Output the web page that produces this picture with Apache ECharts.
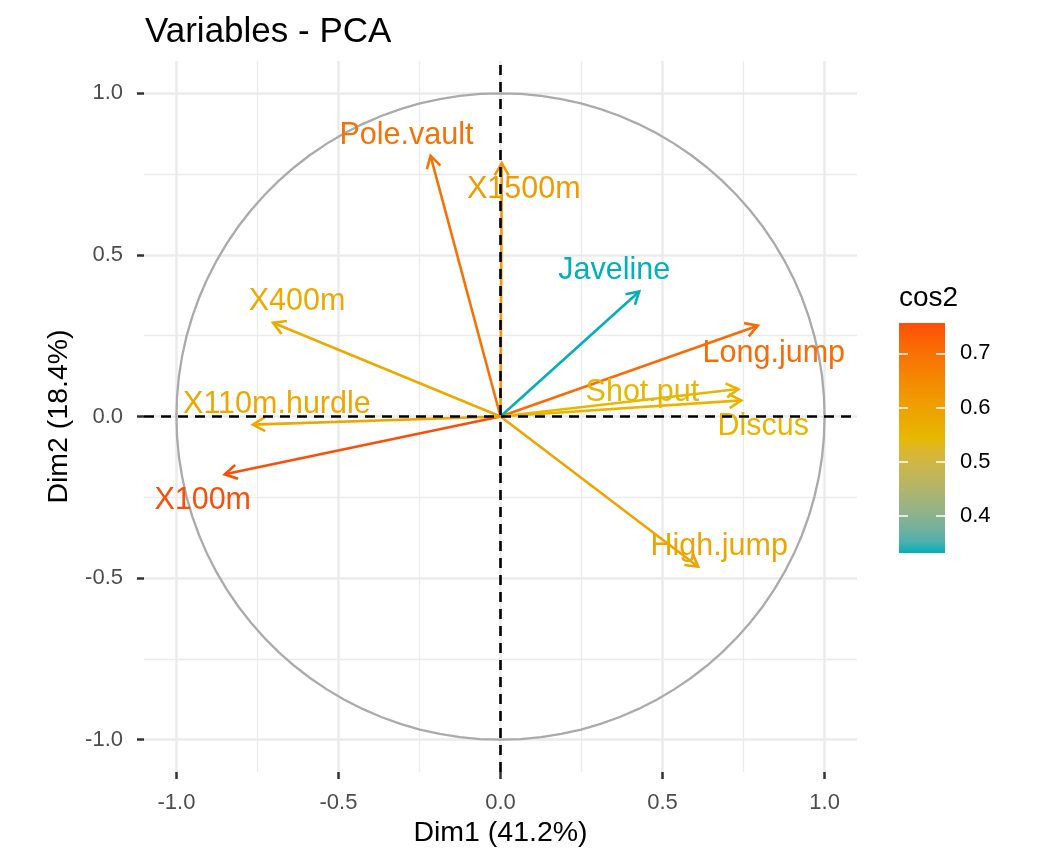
<!DOCTYPE html>
<html>
<head>
<meta charset="utf-8">
<title>Variables - PCA</title>
<script src="https://cdn.jsdelivr.net/npm/echarts@6/dist/echarts.min.js"></script>
<style>
  html, body { margin: 0; padding: 0; background: #fff; }
  #chart { width: 1056px; height: 864px; }
</style>
</head>
<body>
<div id="chart"></div>
<script>
// loadings of each variable on Dim1 / Dim2, and quality (cos2)
const variables = ['X100m', 'Long.jump', 'Shot.put', 'High.jump', 'X400m', 'X110m.hurdle', 'Discus', 'Pole.vault', 'Javeline', 'X1500m'];
const dim1 = [-0.851, 0.794, 0.734, 0.610, -0.702, -0.764, 0.743, -0.216, 0.428, 0.004];
const dim2 = [-0.179, 0.281, 0.085, -0.465, 0.290, -0.025, 0.050, 0.807, 0.387, 0.784];
const cos2 = [0.756, 0.710, 0.546, 0.589, 0.577, 0.585, 0.555, 0.699, 0.333, 0.615];

const axisTicks = [-1, -0.5, 0, 0.5, 1];
const minorGrid = [-0.75, -0.25, 0.25, 0.75];
const cos2Ticks = [0.4, 0.5, 0.6, 0.7];
const cos2Range = [0.332, 0.756];
const gradientCols = ['#00AFBB', '#E7B800', '#FC4E07'];

// label offsets (px from arrow tip), like ggrepel placed them
const labelShift = [[-22, 26], [16, 28], [-96, 4], [21, -20], [24, -21], [24, -20], [22, 26], [-24, -20.5], [-25, -20.5], [22, 26]];

const FONT = '"Liberation Sans", Arial, Helvetica, sans-serif';

// ggplot interpolates colour ramps in CIELAB, do the same
function hexToLab(hex) {
  const c = [1, 3, 5].map(k => parseInt(hex.slice(k, k + 2), 16) / 255)
    .map(v => v <= 0.04045 ? v / 12.92 : Math.pow((v + 0.055) / 1.055, 2.4));
  const x = (0.4124 * c[0] + 0.3576 * c[1] + 0.1805 * c[2]) / 0.95047;
  const y = 0.2126 * c[0] + 0.7152 * c[1] + 0.0722 * c[2];
  const z = (0.0193 * c[0] + 0.1192 * c[1] + 0.9505 * c[2]) / 1.08883;
  const f = t => t > 0.008856 ? Math.cbrt(t) : 7.787 * t + 16 / 116;
  return [116 * f(y) - 16, 500 * (f(x) - f(y)), 200 * (f(y) - f(z))];
}
function labToHex(lab) {
  const fy = (lab[0] + 16) / 116, fx = fy + lab[1] / 500, fz = fy - lab[2] / 200;
  const inv = t => t * t * t > 0.008856 ? t * t * t : (t - 16 / 116) / 7.787;
  const x = inv(fx) * 0.95047, y = inv(fy), z = inv(fz) * 1.08883;
  const lin = [
    3.2406 * x - 1.5372 * y - 0.4986 * z,
    -0.9689 * x + 1.8758 * y + 0.0415 * z,
    0.0557 * x - 0.2040 * y + 1.0570 * z
  ];
  return '#' + lin.map(v => {
    v = v <= 0.0031308 ? 12.92 * v : 1.055 * Math.pow(v, 1 / 2.4) - 0.055;
    const n = Math.round(Math.min(1, Math.max(0, v)) * 255);
    return n.toString(16).padStart(2, '0');
  }).join('');
}
function labRamp(cols, n) {
  const labs = cols.map(hexToLab);
  const out = [];
  for (let k = 0; k < n; k++) {
    const t = k / (n - 1) * (labs.length - 1);
    const j = Math.min(Math.floor(t), labs.length - 2), u = t - j;
    out.push(labToHex(labs[j].map((v, d) => v + (labs[j + 1][d] - v) * u)));
  }
  return out;
}
const ramp = labRamp(gradientCols, 21);

const chart = echarts.init(document.getElementById('chart'));

const gridLine = (axis, v, w) => ({ [axis]: v, lineStyle: { color: '#EBEBEB', width: w, type: 'solid' } });

const option = {
  animation: false,
  backgroundColor: '#fff',
  textStyle: { fontFamily: FONT },
  title: [
    { text: 'Variables - PCA', left: 145, top: 15, padding: 0,
      textStyle: { fontSize: 35, fontWeight: 'normal', color: '#000', fontFamily: FONT } },
    { text: 'cos2', left: 899, top: 284, padding: 0,
      textStyle: { fontSize: 28, fontWeight: 'normal', color: '#000', fontFamily: FONT } }
  ],
  grid: [
    { left: 144, top: 61, width: 713, height: 711 },
    { left: 899, top: 323, width: 46, height: 230 }
  ],
  xAxis: [
    {
      type: 'value', gridIndex: 0, min: -1.1, max: 1.1,
      name: 'Dim1 (41.2%)', nameLocation: 'middle', nameGap: 47,
      nameTextStyle: { fontSize: 28.5, color: '#000' },
      axisLine: { show: false, onZero: false },
      axisTick: { show: true, length: 7, lineStyle: { color: '#333', width: 2.5 }, customValues: axisTicks },
      axisLabel: { customValues: axisTicks, margin: 20, fontSize: 22, color: '#4D4D4D', formatter: v => v.toFixed(1) },
      splitLine: { show: false }
    },
    { type: 'value', gridIndex: 1, min: 0, max: 1, show: false }
  ],
  yAxis: [
    {
      type: 'value', gridIndex: 0, min: -1.1, max: 1.1,
      name: 'Dim2 (18.4%)', nameLocation: 'middle', nameGap: 70,
      nameTextStyle: { fontSize: 28.5, color: '#000' },
      axisLine: { show: false, onZero: false },
      axisTick: { show: true, length: 7, lineStyle: { color: '#333', width: 2.5 }, customValues: axisTicks },
      axisLabel: { customValues: axisTicks, margin: 21, fontSize: 22, color: '#4D4D4D', formatter: v => v.toFixed(1) },
      splitLine: { show: false }
    },
    {
      type: 'value', gridIndex: 1, min: cos2Range[0], max: cos2Range[1], position: 'right', z: 10,
      axisLine: { show: false, onZero: false },
      axisTick: { show: true, inside: true, length: 9, lineStyle: { color: '#fff', width: 1.5 }, customValues: cos2Ticks },
      axisLabel: { customValues: cos2Ticks, margin: 15, fontSize: 22, color: '#000', formatter: v => v.toFixed(1) },
      splitLine: { show: false }
    },
    {
      type: 'value', gridIndex: 1, min: cos2Range[0], max: cos2Range[1], position: 'left', z: 10,
      axisLine: { show: false, onZero: false },
      axisTick: { show: true, inside: true, length: 9, lineStyle: { color: '#fff', width: 1.5 }, customValues: cos2Ticks },
      axisLabel: { show: false },
      splitLine: { show: false }
    }
  ],
  visualMap: {
    type: 'continuous', show: false, seriesIndex: 2, dimension: 2,
    min: cos2Range[0], max: cos2Range[1],
    inRange: { color: ramp }
  },
  series: [
    // panel grid lines
    {
      type: 'line', data: [], silent: true, z: 0,
      markLine: {
        silent: true, symbol: 'none', label: { show: false }, z: 0,
        data: [
          ...minorGrid.map(v => gridLine('xAxis', v, 1.3)),
          ...minorGrid.map(v => gridLine('yAxis', v, 1.3)),
          ...axisTicks.map(v => gridLine('xAxis', v, 2.5)),
          ...axisTicks.map(v => gridLine('yAxis', v, 2.5))
        ]
      }
    },
    // correlation circle
    {
      type: 'custom', silent: true, z: 1,
      data: [[0, 0]],
      renderItem: (params, api) => {
        const pts = [];
        for (let k = 0; k <= 100; k++) {
          const t = k / 100 * Math.PI * 2;
          pts.push(api.coord([Math.cos(t), Math.sin(t)]));
        }
        return { type: 'polyline', shape: { points: pts }, style: { stroke: '#AAAAAA', lineWidth: 2.3, fill: null } };
      }
    },
    // arrows + labels
    {
      type: 'custom', z: 3,
      data: variables.map((n, i) => [dim1[i], dim2[i], cos2[i]]),
      encode: { x: 0, y: 1 },
      renderItem: (params, api) => {
        const i = params.dataIndex;
        const o = api.coord([0, 0]);
        const p = api.coord([api.value(0), api.value(1)]);
        const color = api.visual('color');
        const ang = Math.atan2(p[1] - o[1], p[0] - o[0]);
        const head = 14, spread = Math.PI / 6;
        const w1 = [p[0] - head * Math.cos(ang - spread), p[1] - head * Math.sin(ang - spread)];
        const w2 = [p[0] - head * Math.cos(ang + spread), p[1] - head * Math.sin(ang + spread)];
        const sh = labelShift[i];
        return {
          type: 'group',
          children: [
            { type: 'line', shape: { x1: o[0], y1: o[1], x2: p[0], y2: p[1] }, style: { stroke: color, lineWidth: 2.6 } },
            { type: 'polyline', shape: { points: [w1, p, w2] }, style: { stroke: color, lineWidth: 2.6, fill: null } },
            { type: 'text', x: p[0] + sh[0], y: p[1] + sh[1],
              style: { text: variables[i], fill: color, fontSize: 30.5, fontFamily: FONT, align: 'center', verticalAlign: 'middle' } }
          ]
        };
      }
    },
    // dashed zero lines
    {
      type: 'line', data: [], silent: true, z: 5,
      markLine: {
        silent: true, symbol: 'none', label: { show: false }, z: 6,
        lineStyle: { color: '#000', width: 2.6, type: [10, 7] },
        data: [{ xAxis: 0 }, { yAxis: 0 }]
      }
    },
    // colour bar
    {
      type: 'custom', xAxisIndex: 1, yAxisIndex: 1, silent: true, z: 2,
      data: [[0, cos2Range[0], 1, cos2Range[1]]],
      renderItem: (params, api) => {
        const a = api.coord([api.value(0), api.value(3)]);
        const b = api.coord([api.value(2), api.value(1)]);
        const stops = ramp.map((c, k) => ({ offset: k / (ramp.length - 1), color: c }));
        return {
          type: 'rect',
          shape: { x: a[0], y: a[1], width: b[0] - a[0], height: b[1] - a[1] },
          style: { fill: new echarts.graphic.LinearGradient(0, 1, 0, 0, stops) }
        };
      }
    }
  ]
};

chart.setOption(option);
</script>
</body>
</html>
